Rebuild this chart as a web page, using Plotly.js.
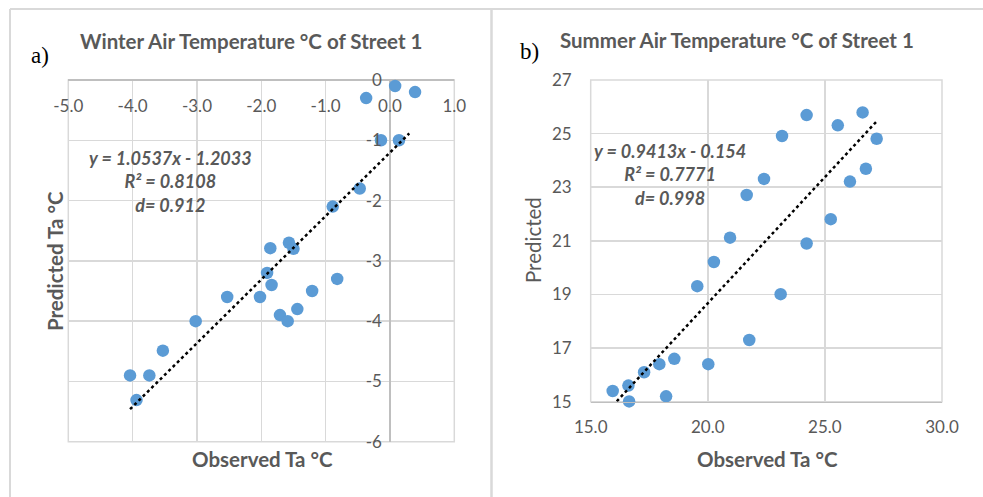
<!DOCTYPE html>
<html>
<head>
<meta charset="utf-8">
<script src="https://cdn.plot.ly/plotly-3.0.1.min.js"></script>
<style>html,body{margin:0;padding:0;background:#fff;}#chart{width:983px;height:497px;}</style>
</head>
<body>
<div id="chart"></div>
<script>
// ---- Data: Winter (Street 1) ----
const winterObserved = [0.08, 0.39, -0.37, -0.14, 0.14, -0.47, -0.89, -1.57, -1.86, -1.50, -1.91, -1.84, -0.82, -1.21, -2.53, -2.02, -1.44, -1.71, -1.59, -3.02, -3.53, -4.04, -3.74, -3.94];
const winterPredicted = [-0.10, -0.20, -0.30, -1.00, -1.00, -1.80, -2.10, -2.70, -2.79, -2.80, -3.20, -3.40, -3.30, -3.50, -3.60, -3.60, -3.80, -3.90, -4.00, -4.00, -4.49, -4.90, -4.90, -5.31];
const winterSlope = 1.0537, winterIntercept = -1.2033;
const winterTrendX = [-4.04, 0.30];

// ---- Data: Summer (Street 1) ----
const summerObserved = [24.22, 26.61, 25.55, 23.17, 27.21, 26.75, 22.40, 26.07, 21.66, 25.25, 20.95, 24.22, 20.26, 19.55, 23.11, 21.77, 18.57, 17.93, 20.02, 17.28, 16.61, 15.94, 18.22, 16.64];
const summerPredicted = [25.69, 25.79, 25.31, 24.91, 24.81, 23.69, 23.31, 23.21, 22.71, 21.81, 21.12, 20.90, 20.21, 19.31, 19.01, 17.30, 16.60, 16.40, 16.40, 16.10, 15.60, 15.40, 15.20, 15.01];
const summerSlope = 0.9413, summerIntercept = -0.154;
const summerTrendX = [15.94, 27.21];

// ---- Tick labels ----
const winterXTicks = [-5, -4, -3, -2, -1, 0, 1];
const winterXLabels = ['-5.0', '-4.0', '-3.0', '-2.0', '-1.0', '0.0', '1.0'];
const winterYTicks = [0, -1, -2, -3, -4, -5, -6];
const winterYLabels = ['0', '-1', '-2', '-3', '-4', '-5', '-6'];
const summerXTicks = [15, 20, 25, 30];
const summerXLabels = ['15.0', '20.0', '25.0', '30.0'];
const summerYTicks = [15, 17, 19, 21, 23, 25, 27];
const summerYLabels = ['15', '17', '19', '21', '23', '25', '27'];

// ---- Layout helpers ----
const W = 983, H = 497;
const px = v => v / W;
const py = v => 1 - v / H;
const TXT = '#595959', GRID = '#d9d9d9', AXIS = '#bfbfbf', BLUE = '#5b9bd5';
const FONT = 'Lato, "Open Sans", sans-serif';

const wXDom = [px(68.3), px(454.3)];
const wXRange = [-5, 1];
const wYPos = wXDom[0] + (0 - wXRange[0]) / (wXRange[1] - wXRange[0]) * (wXDom[1] - wXDom[0]);

const traces = [
  {x: winterObserved, y: winterPredicted, xaxis: 'x', yaxis: 'y', type: 'scatter', mode: 'markers',
   marker: {color: BLUE, size: 12.5}, hoverinfo: 'skip', cliponaxis: false},
  {x: winterTrendX, y: winterTrendX.map(v => winterSlope * v + winterIntercept), xaxis: 'x', yaxis: 'y',
   type: 'scatter', mode: 'lines', line: {color: '#000', width: 2.5, dash: 'dot'}, hoverinfo: 'skip'},
  {x: summerObserved, y: summerPredicted, xaxis: 'x2', yaxis: 'y2', type: 'scatter', mode: 'markers',
   marker: {color: BLUE, size: 12.5}, hoverinfo: 'skip', cliponaxis: false},
  {x: summerTrendX, y: summerTrendX.map(v => summerSlope * v + summerIntercept), xaxis: 'x2', yaxis: 'y2',
   type: 'scatter', mode: 'lines', line: {color: '#000', width: 2.5, dash: 'dot'}, hoverinfo: 'skip'}
];

const tickFont = {family: FONT, size: 17, color: TXT};

const layout = {
  width: W, height: H,
  margin: {l: 0, r: 0, t: 0, b: 0},
  paper_bgcolor: '#fff', plot_bgcolor: '#fff',
  showlegend: false, hovermode: false,
  font: {family: FONT, color: TXT},
  xaxis: {
    domain: wXDom, range: wXRange, anchor: 'y', side: 'top',
    tickmode: 'array', tickvals: winterXTicks, ticktext: winterXLabels,
    ticklabelposition: 'inside', ticklabeloverflow: 'allow', ticklabelstandoff: 17, ticks: '',
    tickfont: tickFont, showgrid: true, gridcolor: GRID, gridwidth: 1.5,
    zeroline: true, zerolinecolor: AXIS, zerolinewidth: 1.5, showline: false, fixedrange: true
  },
  yaxis: {
    domain: [py(441.7), py(80)], range: [-6, 0], anchor: 'free', position: wYPos, side: 'left',
    tickmode: 'array', tickvals: winterYTicks, ticktext: winterYLabels,
    ticks: '', ticklabelstandoff: 8, ticklabeloverflow: 'allow', tickfont: tickFont,
    showgrid: true, gridcolor: GRID, gridwidth: 1.5,
    zeroline: true, zerolinecolor: AXIS, zerolinewidth: 1.5, showline: false, fixedrange: true
  },
  xaxis2: {
    domain: [px(590.7), px(942)], range: [15, 30], anchor: 'y2',
    tickmode: 'array', tickvals: summerXTicks, ticktext: summerXLabels,
    ticks: '', ticklabelstandoff: 9, ticklabeloverflow: 'allow', tickfont: tickFont,
    showgrid: true, gridcolor: GRID, gridwidth: 1.5,
    zeroline: false, showline: true, linecolor: AXIS, linewidth: 1.5, fixedrange: true
  },
  yaxis2: {
    domain: [py(401.7), py(80)], range: [15, 27], anchor: 'x2',
    tickmode: 'array', tickvals: summerYTicks, ticktext: summerYLabels,
    ticks: '', ticklabelstandoff: 18, ticklabeloverflow: 'allow', tickfont: tickFont,
    showgrid: true, gridcolor: GRID, gridwidth: 1.5,
    zeroline: false, showline: false, fixedrange: true
  },
  shapes: [
    // panel frames
    {type: 'line', xref: 'paper', yref: 'paper', x0: px(10), x1: 1, y0: py(9), y1: py(9), line: {color: GRID, width: 2}},
    {type: 'line', xref: 'paper', yref: 'paper', x0: px(10), x1: px(10), y0: py(9), y1: 0, line: {color: GRID, width: 2}},
    {type: 'line', xref: 'paper', yref: 'paper', x0: px(491.5), x1: px(491.5), y0: py(9), y1: 0, line: {color: GRID, width: 2.5}},
    // plot-area borders (edge gridlines)
    {type: 'rect', xref: 'x domain', yref: 'y domain', x0: 0, x1: 1, y0: 0, y1: 1, layer: 'below', line: {color: GRID, width: 1.5}},
    {type: 'line', xref: 'x domain', yref: 'y domain', x0: 0, x1: 1, y0: 1, y1: 1, layer: 'below', line: {color: AXIS, width: 1.5}},
    {type: 'rect', xref: 'x2 domain', yref: 'y2 domain', x0: 0, x1: 1, y0: 0, y1: 1, layer: 'below', line: {color: GRID, width: 1.5}}
  ],
  annotations: [
    // titles
    {xref: 'paper', yref: 'paper', x: px(251), y: py(41), text: '<b>Winter Air Temperature °C of Street 1</b>', showarrow: false,
     font: {family: FONT, size: 20.5, color: TXT}, xanchor: 'center', yanchor: 'middle'},
    {xref: 'paper', yref: 'paper', x: px(737), y: py(40), text: '<b>Summer Air Temperature °C of Street 1</b>', showarrow: false,
     font: {family: FONT, size: 20.5, color: TXT}, xanchor: 'center', yanchor: 'middle'},
    // panel letters
    {xref: 'paper', yref: 'paper', x: px(29), y: py(56), text: 'a)', showarrow: false,
     font: {family: '"Liberation Serif", "DejaVu Serif", serif', size: 23, color: '#000'}, xanchor: 'left', yanchor: 'middle'},
    {xref: 'paper', yref: 'paper', x: px(518), y: py(51), text: 'b)', showarrow: false,
     font: {family: '"Liberation Serif", "DejaVu Serif", serif', size: 23, color: '#000'}, xanchor: 'left', yanchor: 'middle'},
    // axis titles
    {xref: 'paper', yref: 'paper', x: px(262), y: py(459), text: '<b>Observed Ta °C</b>', showarrow: false,
     font: {family: FONT, size: 20.5, color: TXT}, xanchor: 'center', yanchor: 'middle'},
    {xref: 'paper', yref: 'paper', x: px(55), y: py(261), text: '<b>Predicted Ta °C</b>', showarrow: false, textangle: -90,
     font: {family: FONT, size: 20.5, color: TXT}, xanchor: 'center', yanchor: 'middle'},
    {xref: 'paper', yref: 'paper', x: px(767), y: py(459), text: '<b>Observed Ta °C</b>', showarrow: false,
     font: {family: FONT, size: 20.5, color: TXT}, xanchor: 'center', yanchor: 'middle'},
    {xref: 'paper', yref: 'paper', x: px(533), y: py(240), text: 'Predicted', showarrow: false, textangle: -90,
     font: {family: FONT, size: 20.5, color: TXT}, xanchor: 'center', yanchor: 'middle'},
    // equations
    {xref: 'paper', yref: 'paper', x: px(170), y: py(182), text: '<b><i>y = 1.0537x - 1.2033<br>R² = 0.8108<br>d= 0.912</i></b>', showarrow: false,
     font: {family: FONT, size: 18, color: TXT}, xanchor: 'center', yanchor: 'middle', align: 'center'},
    {xref: 'paper', yref: 'paper', x: px(670), y: py(174), text: '<b><i>y = 0.9413x - 0.154<br>R² = 0.7771<br>d= 0.998</i></b>', showarrow: false,
     font: {family: FONT, size: 18, color: TXT}, xanchor: 'center', yanchor: 'middle', align: 'center'}
  ]
};

Plotly.newPlot('chart', traces, layout, {staticPlot: true, displayModeBar: false});
</script>
</body>
</html>
